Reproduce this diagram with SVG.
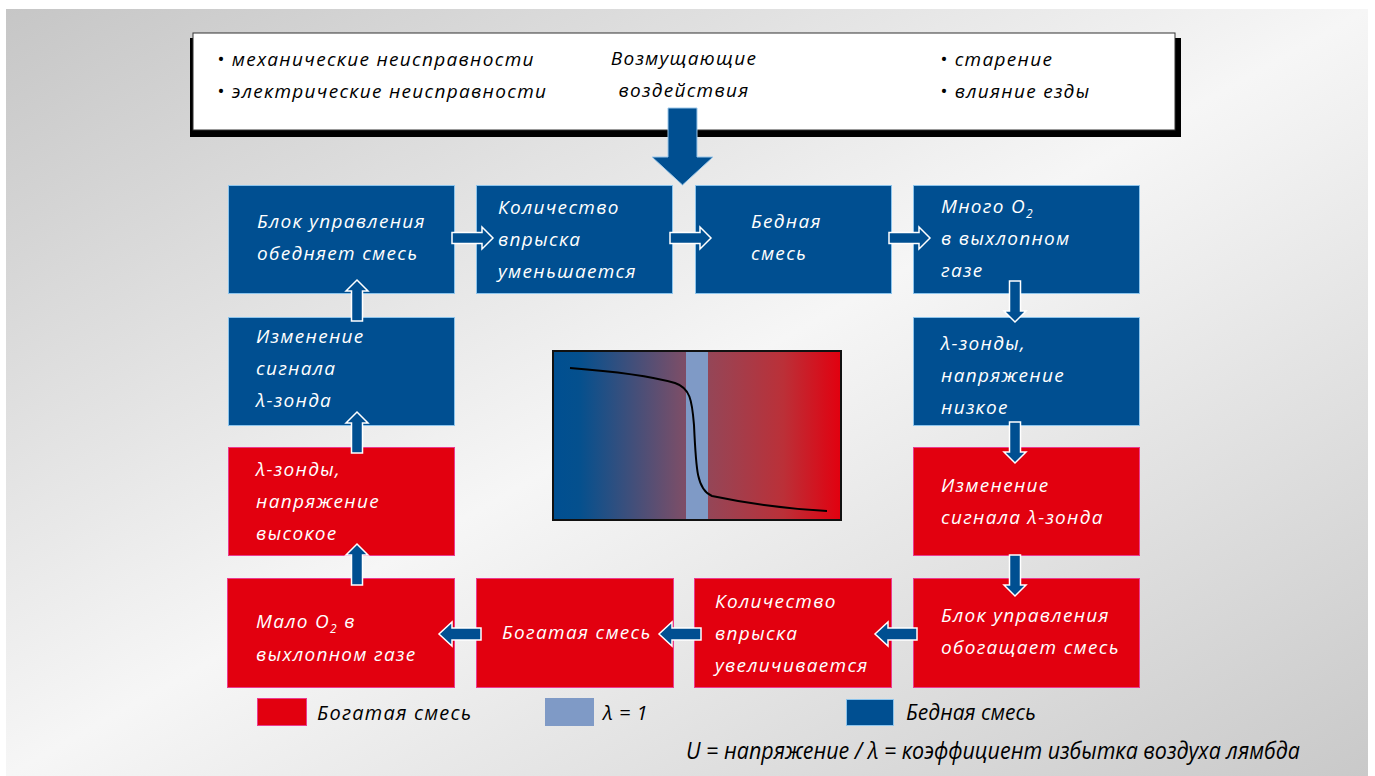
<svg xmlns="http://www.w3.org/2000/svg" width="1375" height="776" viewBox="0 0 1375 776">
<defs>
<linearGradient id="bg" x1="0" y1="0" x2="1" y2="1">
<stop offset="0" stop-color="#c6c6c6"/>
<stop offset="0.5" stop-color="#f6f6f6"/>
<stop offset="1" stop-color="#c9c9c9"/>
</linearGradient>
<linearGradient id="chart" x1="0" y1="0" x2="1" y2="0">
<stop offset="0" stop-color="#004f91"/>
<stop offset="0.09" stop-color="#04508e"/>
<stop offset="0.45" stop-color="#7b4e68"/>
<stop offset="0.55" stop-color="#964556"/>
<stop offset="0.8" stop-color="#bb3038"/>
<stop offset="1" stop-color="#e2000f"/>
</linearGradient>
<path id="arr" d="M0,-5.5 H30 V-11 L41,0 L30,11 V5.5 H0 Z"/>
<path id="arrL" d="M0,-6 H29 V-12 L42,0 L29,12 V6 H0 Z"/>
</defs>
<style>
.blue{fill:#004f91;stroke:#8cc4ec;stroke-width:1}
.red{fill:#e2000f;stroke:#ec3b8f;stroke-width:1}
.t{font-family:"Open Sans","DejaVu Sans",sans-serif;font-style:italic;font-size:19px;letter-spacing:1.3px;fill:#ffffff}
.k{font-family:"Open Sans","DejaVu Sans",sans-serif;font-style:italic;font-size:19px;letter-spacing:1.3px;fill:#000000}
.sub{font-size:12px}
.a{fill:#004f91;stroke:#ffffff;stroke-width:1.5}
</style>
<rect x="0" y="0" width="1375" height="776" fill="#ffffff"/>
<rect x="6" y="9" width="1362" height="767" fill="url(#bg)"/>

<g id="disturbances">
<rect x="190" y="38" width="991" height="99" fill="#000000"/>
<rect x="193" y="33" width="982" height="97" fill="#ffffff" stroke="#333333" stroke-width="1"/>
<text class="k" x="217" y="66">• механические неисправности</text>
<text class="k" x="217" y="98">• электрические неисправности</text>
<text class="k" x="684" y="65" text-anchor="middle">Возмущающие</text>
<text class="k" x="684" y="97" text-anchor="middle">воздействия</text>
<text class="k" x="940" y="66">• старение</text>
<text class="k" x="940" y="98">• влияние езды</text>
</g>

<g id="n1"><rect class="blue" x="228.5" y="185.5" width="226" height="108"/>
<text class="t" x="257" y="228">Блок управления</text><text class="t" x="257" y="260">обедняет смесь</text></g>
<g id="n2"><rect class="blue" x="476.5" y="185.5" width="196" height="108"/>
<text class="t" x="498" y="214">Количество</text><text class="t" x="498" y="246">впрыска</text><text class="t" x="498" y="278">уменьшается</text></g>
<g id="n3"><rect class="blue" x="695.5" y="185.5" width="196" height="108"/>
<text class="t" x="751" y="228">Бедная</text><text class="t" x="751" y="260">смесь</text></g>
<g id="n4"><rect class="blue" x="913.5" y="185.5" width="226" height="108"/>
<text class="t" x="941" y="213">Много O<tspan class="sub" dy="5">2</tspan></text><text class="t" x="941" y="245">в выхлопном</text><text class="t" x="941" y="277">газе</text></g>
<g id="n5"><rect class="blue" x="913.5" y="317.5" width="226" height="108"/>
<text class="t" x="941" y="350">λ-зонды,</text><text class="t" x="941" y="382">напряжение</text><text class="t" x="941" y="414">низкое</text></g>
<g id="n6"><rect class="red" x="913.5" y="447.5" width="226" height="108"/>
<text class="t" x="941" y="492">Изменение</text><text class="t" x="941" y="524">сигнала λ-зонда</text></g>
<g id="n7"><rect class="red" x="913.5" y="578.5" width="226" height="109"/>
<text class="t" x="941" y="622">Блок управления</text><text class="t" x="941" y="654">обогащает смесь</text></g>
<g id="n8"><rect class="red" x="694.5" y="578.5" width="197" height="109"/>
<text class="t" x="715" y="608">Количество</text><text class="t" x="715" y="640">впрыска</text><text class="t" x="715" y="672">увеличивается</text></g>
<g id="n9"><rect class="red" x="476.5" y="578.5" width="197" height="109"/>
<text class="t" x="502" y="639">Богатая смесь</text></g>
<g id="n10"><rect class="red" x="227.5" y="578.5" width="227" height="109"/>
<text class="t" x="256" y="628">Мало O<tspan class="sub" dy="5">2</tspan><tspan dy="-5"> в</tspan></text><text class="t" x="256" y="661">выхлопном газе</text></g>
<g id="n11"><rect class="red" x="228.5" y="447.5" width="226" height="108"/>
<text class="t" x="256" y="476">λ-зонды,</text><text class="t" x="256" y="508">напряжение</text><text class="t" x="256" y="540">высокое</text></g>
<g id="n12"><rect class="blue" x="228.5" y="317.5" width="226" height="108"/>
<text class="t" x="256" y="343">Изменение</text><text class="t" x="256" y="375">сигнала</text><text class="t" x="256" y="407">λ-зонда</text></g>

<g id="chart">
<rect x="553" y="351" width="288" height="169" fill="url(#chart)"/>
<rect x="686" y="351" width="22" height="169" fill="#7f9ac6"/>
<rect x="553" y="351" width="288" height="169" fill="none" stroke="#111111" stroke-width="2"/>
<path d="M570,368 C610,371 650,376 675,383 C690,388 692,400 694,425 C696,470 697,490 712,496 C750,504 790,509 827,511" fill="none" stroke="#000000" stroke-width="2"/>
</g>

<g id="connectors">
<path d="M668,108 H697 V157 H713 L682.5,185 L652,157 H668 Z" fill="#004f91" stroke="#9cc8ea" stroke-width="1"/>
<use href="#arr" class="a" transform="translate(452,238)"/>
<use href="#arr" class="a" transform="translate(670,238)"/>
<use href="#arr" class="a" transform="translate(889,238)"/>
<use href="#arr" class="a" transform="translate(1015,281) rotate(90)"/>
<use href="#arr" class="a" transform="translate(1015,422) rotate(90)"/>
<use href="#arr" class="a" transform="translate(1015,555) rotate(90)"/>
<use href="#arrL" class="a" transform="translate(917,634) scale(-1,1)"/>
<use href="#arrL" class="a" transform="translate(701,634) scale(-1,1)"/>
<use href="#arrL" class="a" transform="translate(481,634) scale(-1,1)"/>
<use href="#arr" class="a" transform="translate(357,585) rotate(-90)"/>
<use href="#arr" class="a" transform="translate(357,453) rotate(-90)"/>
<use href="#arr" class="a" transform="translate(357,321) rotate(-90)"/>
</g>

<g id="legend">
<rect x="257.5" y="698.5" width="49" height="27" fill="#e2000f" stroke="#ec3b8f" stroke-width="1"/>
<text class="k" x="317" y="720" style="font-size:20px;letter-spacing:1.2px">Богатая смесь</text>
<rect x="545" y="698" width="49" height="28" fill="#7f9ac6"/>
<text class="k" x="603" y="720" style="font-size:20px;letter-spacing:0.5px">λ = 1</text>
<rect x="846.5" y="699.5" width="47" height="26" fill="#004f91" stroke="#8cc4ec" stroke-width="1"/>
<text class="k" x="906" y="720" style="font-size:22px;letter-spacing:0px" textLength="130" lengthAdjust="spacingAndGlyphs">Бедная смесь</text>
<text class="k" x="686" y="759" style="font-size:23px;letter-spacing:0px" textLength="614" lengthAdjust="spacingAndGlyphs">U = напряжение / λ = коэффициент избытка воздуха лямбда</text>
</g>
</svg>
